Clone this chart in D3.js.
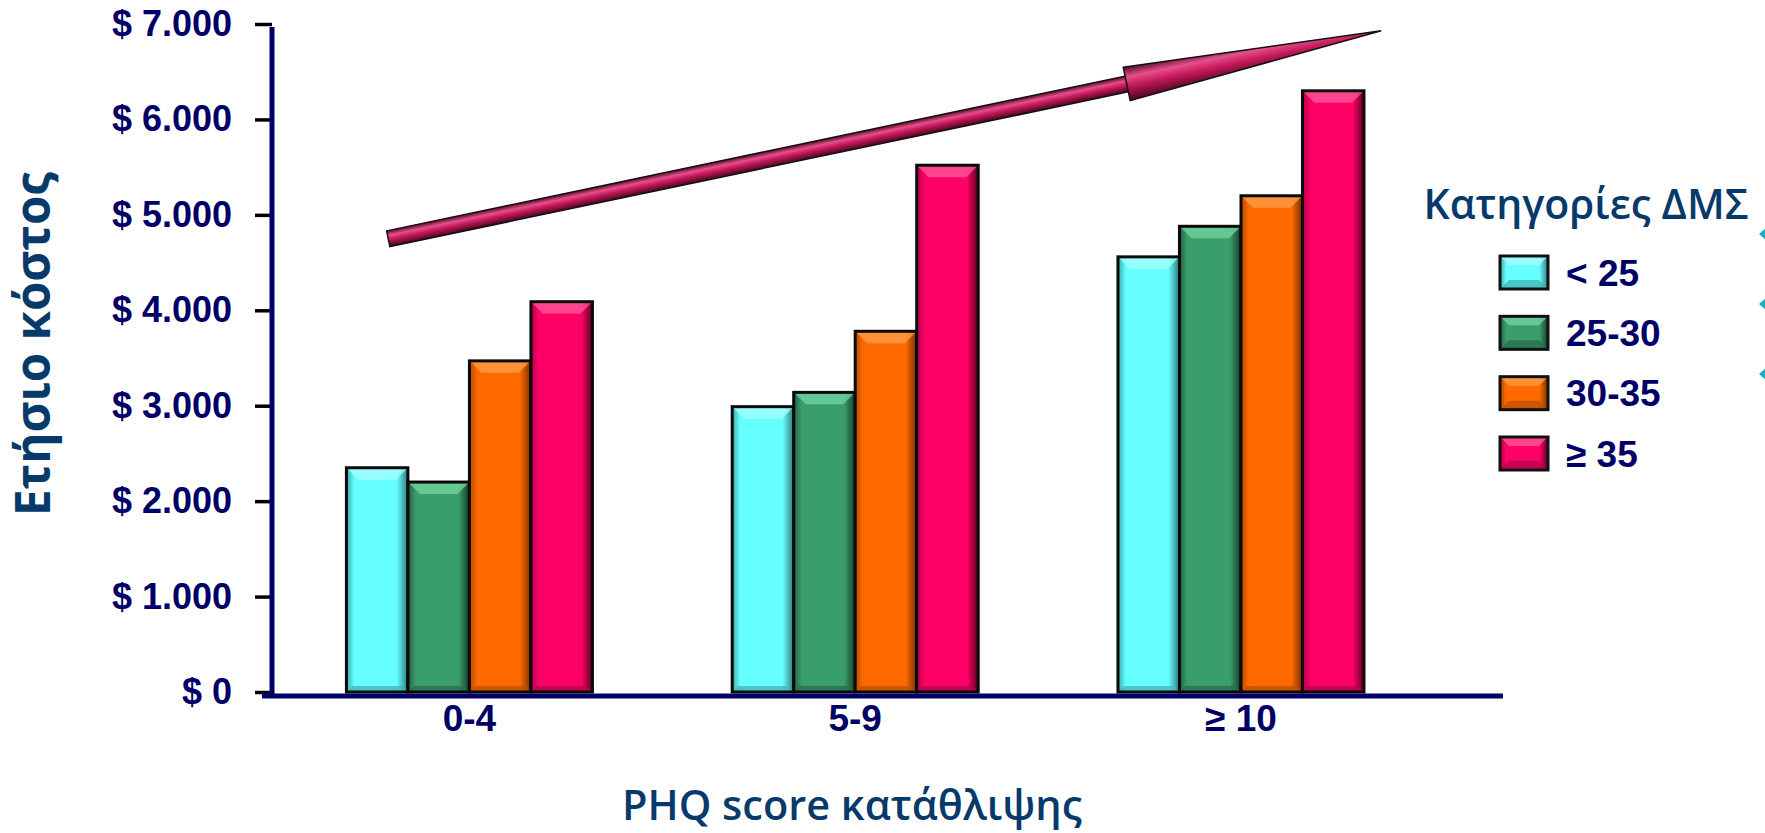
<!DOCTYPE html>
<html>
<head>
<meta charset="utf-8">
<script src="https://cdn.jsdelivr.net/npm/d3@7"></script>
<style>
  html, body { margin: 0; padding: 0; background: #ffffff; }
  svg { display: block; }
</style>
</head>
<body>
<svg id="chart" width="1765" height="833"></svg>
<script>
// ---------- data ----------
const categories = ["0-4", "5-9", "≥ 10"];
const seriesNames = ["< 25", "25-30", "30-35", "≥ 35"];
const seriesLt25   = [2350, 2990, 4560];
const series25to30 = [2200, 3140, 4880];
const series30to35 = [3470, 3780, 5200];
const seriesGe35   = [4090, 5520, 6300];
const yTicks = [0, 1000, 2000, 3000, 4000, 5000, 6000, 7000];
const yTickLabels = ["$ 0", "$ 1.000", "$ 2.000", "$ 3.000", "$ 4.000", "$ 5.000", "$ 6.000", "$ 7.000"];
const yTitle = "Ετήσιο κόστος";
const xTitle = "PHQ score κατάθλιψης";
const legendTitle = "Κατηγορίες ΔΜΣ";
// trend arrow (annotation) in data space: category, position within band, value
const arrowFrom = { cat: "0-4", pos: 0.17, value: 4750 };
const arrowTo   = { cat: "≥ 10", pos: 1.07, value: 6930 };

const allSeries = [seriesLt25, series25to30, series30to35, seriesGe35];
const table = categories.map((c, i) => ({
  cat: c,
  values: seriesNames.map((s, k) => ({ key: s, value: allSeries[k][i] }))
}));

// ---------- styles ----------
const palette = {
  "< 25":  { base: "#66ffff", edgeL: "#3aa8a8", edgeR: "#2a7a7c", top: "#a8ffff", bottom: "#45b6b6" },
  "25-30": { base: "#3a9e6c", edgeL: "#245f42", edgeR: "#163d2a", top: "#74d6a2", bottom: "#2a6f4c" },
  "30-35": { base: "#ff6a00", edgeL: "#b44a00", edgeR: "#763000", top: "#ffa04a", bottom: "#c05000" },
  "≥ 35":  { base: "#ff0066", edgeL: "#b0004a", edgeR: "#560022", top: "#ff5a9a", bottom: "#b8004c" }
};
const navy = "#000066";
const titleBlue = "#073a6a";

const svg = d3.select("#chart");
const defs = svg.append("defs");

seriesNames.forEach((s, i) => {
  const p = palette[s];
  const g = defs.append("linearGradient").attr("id", "bar" + i)
    .attr("x1", "0").attr("y1", "0").attr("x2", "1").attr("y2", "0");
  g.append("stop").attr("offset", "0").attr("stop-color", p.edgeL);
  g.append("stop").attr("offset", "0.13").attr("stop-color", p.base);
  g.append("stop").attr("offset", "0.82").attr("stop-color", p.base);
  g.append("stop").attr("offset", "1").attr("stop-color", p.edgeR);
});

// ---------- scales ----------
const y = d3.scaleLinear().domain([0, 7000]).range([692, 24]);
const x0 = d3.scaleBand().domain(categories).range([276.6, 1433.8])
  .paddingInner(0.3623).paddingOuter(0.181);
const x1 = d3.scaleBand().domain(seriesNames).range([0, x0.bandwidth()]).padding(0);

// ---------- bars ----------
const groups = svg.append("g").selectAll("g").data(table).join("g")
  .attr("transform", d => `translate(${x0(d.cat)},0)`);

const bars = groups.selectAll("g.bar").data(d => d.values).join("g").attr("class", "bar");
bars.each(function(d) {
  const g = d3.select(this);
  const i = seriesNames.indexOf(d.key);
  const p = palette[d.key];
  const bx = x1(d.key), bw = x1.bandwidth();
  const top = y(d.value), bot = y(0);
  const bv = 12, bb = 6;
  g.append("rect").attr("x", bx).attr("y", top).attr("width", bw).attr("height", bot - top)
    .attr("fill", `url(#bar${i})`);
  g.append("polygon")
    .attr("points", [[bx, top], [bx + bw, top], [bx + bw - bv, top + bv], [bx + bv, top + bv]].map(q => q.join(",")).join(" "))
    .attr("fill", p.top).attr("opacity", 0.75);
  g.append("polygon")
    .attr("points", [[bx + bb, bot - bb], [bx + bw - bb, bot - bb], [bx + bw, bot], [bx, bot]].map(q => q.join(",")).join(" "))
    .attr("fill", p.bottom).attr("opacity", 0.8);
  g.append("rect").attr("x", bx).attr("y", top).attr("width", bw).attr("height", bot - top)
    .attr("fill", "none").attr("stroke", "#0a0a0a").attr("stroke-width", 3);
});

// ---------- axes ----------
const yAxis = d3.axisLeft(y).tickValues(yTicks)
  .tickFormat((d, i) => yTickLabels[i]).tickSizeInner(17).tickSizeOuter(0).tickPadding(23);
const yg = svg.append("g").attr("transform", "translate(272,0)").call(yAxis);
yg.select(".domain").remove();
yg.selectAll(".tick line").attr("stroke", "#000").attr("stroke-width", 3.5);
yg.selectAll(".tick text")
  .attr("fill", navy).attr("font-family", "'Liberation Sans', Arial, sans-serif")
  .attr("font-weight", "bold").attr("font-size", 36);

const xAxis = d3.axisBottom(x0).tickSize(0).tickPadding(9);
const xg = svg.append("g").attr("transform", "translate(0,696)").call(xAxis);
xg.select(".domain").remove();
xg.selectAll(".tick text")
  .attr("fill", navy).attr("font-family", "'Liberation Sans', Arial, sans-serif")
  .attr("font-weight", "bold").attr("font-size", 37);

// axis lines
svg.append("line").attr("x1", 272).attr("x2", 272).attr("y1", 27).attr("y2", 698)
  .attr("stroke", navy).attr("stroke-width", 5);
svg.append("line").attr("x1", 262).attr("x2", 1503).attr("y1", 696).attr("y2", 696)
  .attr("stroke", navy).attr("stroke-width", 5);

// ---------- titles ----------
svg.append("text").attr("transform", "translate(50,344) rotate(-90)")
  .attr("text-anchor", "middle").attr("fill", titleBlue)
  .attr("font-family", "'Open Sans', sans-serif").attr("font-weight", 700)
  .attr("font-size", 47.5).text(yTitle);

svg.append("text").attr("x", 852).attr("y", 820)
  .attr("text-anchor", "middle").attr("fill", titleBlue)
  .attr("font-family", "'Open Sans', sans-serif").attr("font-weight", 600)
  .attr("font-size", 41.5).text(xTitle);

// ---------- trend arrow ----------
const P0 = [x0(arrowFrom.cat) + arrowFrom.pos * x0.bandwidth(), y(arrowFrom.value)];
const P1 = [x0(arrowTo.cat) + arrowTo.pos * x0.bandwidth(), y(arrowTo.value)];
const len = Math.hypot(P1[0] - P0[0], P1[1] - P0[1]);
const u = [(P1[0] - P0[0]) / len, (P1[1] - P0[1]) / len];
const n = [-u[1], u[0]];
const hw = 8, hh = 17, headLen = 260;
const B = [P1[0] - u[0] * headLen, P1[1] - u[1] * headLen];
const add = (a, v, s) => [a[0] + v[0] * s, a[1] + v[1] * s];

function arrowGrad(id, half) {
  const g = defs.append("linearGradient").attr("id", id).attr("gradientUnits", "userSpaceOnUse");
  const a = add(B, n, -half), b = add(B, n, half);
  g.attr("x1", a[0]).attr("y1", a[1]).attr("x2", b[0]).attr("y2", b[1]);
  g.append("stop").attr("offset", "0").attr("stop-color", "#5a0a2a");
  g.append("stop").attr("offset", "0.3").attr("stop-color", "#e5508a");
  g.append("stop").attr("offset", "0.55").attr("stop-color", "#c81a5c");
  g.append("stop").attr("offset", "1").attr("stop-color", "#4a0520");
}
arrowGrad("shaftGrad", hw);
arrowGrad("headGrad", hh);

const overlap = add(B, u, 4);
const shaftPts = [add(P0, n, -hw), add(overlap, n, -hw), add(overlap, n, hw), add(P0, n, hw)];
const head = [add(B, n, -hh), P1, add(B, n, hh)];
const arrowG = svg.append("g");
arrowG.append("polygon").attr("points", shaftPts.map(q => q.join(",")).join(" "))
  .attr("fill", "url(#shaftGrad)").attr("stroke", "#111").attr("stroke-width", 1.5);
arrowG.append("polygon").attr("points", head.map(q => q.join(",")).join(" "))
  .attr("fill", "url(#headGrad)").attr("stroke", "#111").attr("stroke-width", 1.5)
  .attr("stroke-linejoin", "miter");

// ---------- legend ----------
const legend = svg.append("g");
legend.append("text").attr("x", 1586).attr("y", 219).attr("text-anchor", "middle")
  .attr("fill", titleBlue).attr("font-family", "'Open Sans', sans-serif")
  .attr("font-weight", 600).attr("font-size", 41).text(legendTitle);

const rowY = d3.scalePoint().domain(seriesNames).range([272.5, 453.5]);
seriesNames.forEach((s, i) => {
  const p = palette[s];
  const cy = rowY(s);
  const lx = 1500, lw = 48, lh = 33, ly = cy - lh / 2, bv = 9;
  const g = legend.append("g");
  g.append("rect").attr("x", lx).attr("y", ly).attr("width", lw).attr("height", lh)
    .attr("fill", `url(#bar${i})`);
  g.append("polygon")
    .attr("points", [[lx, ly], [lx + lw, ly], [lx + lw - bv, ly + bv], [lx + bv, ly + bv]].map(q => q.join(",")).join(" "))
    .attr("fill", p.top).attr("opacity", 0.75);
  g.append("polygon")
    .attr("points", [[lx + bv, ly + lh - bv], [lx + lw - bv, ly + lh - bv], [lx + lw, ly + lh], [lx, ly + lh]].map(q => q.join(",")).join(" "))
    .attr("fill", p.bottom).attr("opacity", 0.8);
  g.append("rect").attr("x", lx).attr("y", ly).attr("width", lw).attr("height", lh)
    .attr("fill", "none").attr("stroke", "#111").attr("stroke-width", 3);
  g.append("text").attr("x", 1566).attr("y", cy).attr("dy", "0.36em")
    .attr("fill", navy).attr("font-family", "'Liberation Sans', Arial, sans-serif")
    .attr("font-weight", "bold").attr("font-size", 37).text(s);
});

// decorative bullets cut at the right edge
const bulletY = d3.scaleLinear().domain([0, 2]).range([234, 374]);
[0, 1, 2].forEach(k => {
  const cy = bulletY(k), cx = 1767;
  legend.append("polygon")
    .attr("points", [[cx - 8, cy], [cx, cy - 7], [cx + 8, cy], [cx, cy + 7]].map(q => q.join(",")).join(" "))
    .attr("fill", "#1aaec6");
});
</script>
</body>
</html>
